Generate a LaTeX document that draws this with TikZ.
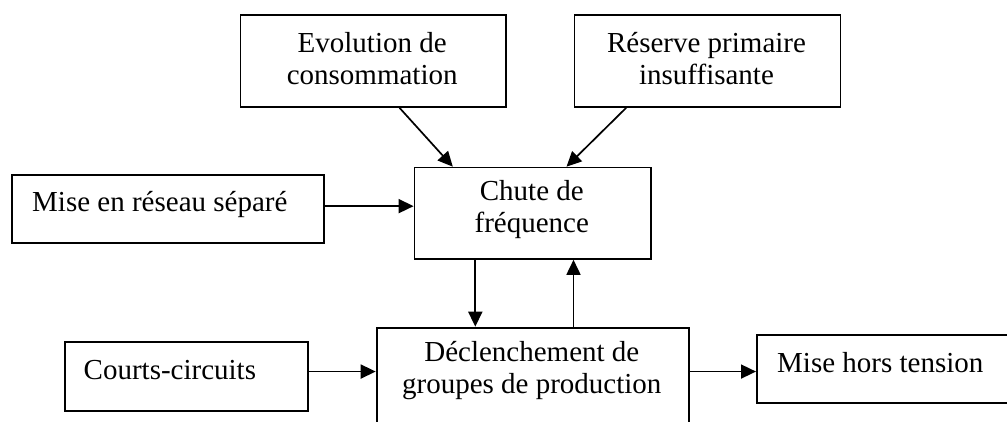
\documentclass[tikz,border=0pt]{standalone}
\usepackage{fontspec}
\setmainfont{Liberation Serif}
\usetikzlibrary{arrows.meta}
\begin{document}
\begin{tikzpicture}[x=1pt,y=-1pt,
  box/.style={draw, line width=1.8pt, rectangle, inner sep=0pt, anchor=north west},
  lbl/.style={inner sep=0pt, align=center, font=\fontsize{29}{32}\selectfont},
  arr/.style={line width=1.7pt, -{Triangle[length=15pt,width=14pt]}}]
\useasboundingbox (0,0) rectangle (1007,422);
\clip (0,0) rectangle (1007,422);

% boxes
\node[box, minimum width=265.2pt, minimum height=91.7pt] (evo) at (239.6,14.3) {};
\node[box, minimum width=266pt, minimum height=91.7pt] (res) at (573.5,14.3) {};
\node[box, minimum width=236.4pt, minimum height=91.3pt] (chute) at (413.6,166.7) {};
\node[box, minimum width=312pt, minimum height=68.5pt] (mrs) at (10.9,174) {};
\node[box, minimum width=242.8pt, minimum height=68.7pt] (cc) at (64.2,341.3) {};
\node[box, minimum width=312.3pt, minimum height=130pt] (dec) at (375.7,326.7) {};
\node[box, minimum width=300pt, minimum height=68pt] (mht) at (756,334) {};

% labels
\node[lbl] (tevo) at (372.2,59) {Evolution de\\consommation};
\node[lbl] (tres) at (706.5,59) {Réserve primaire\\insuffisante};
\node[lbl] (tchute) at (531.8,210) {Chute de\\fréquence};
\node[lbl, anchor=west] (tmrs) at (32,205) {Mise en réseau séparé};
\node[lbl, anchor=west] (tcc) at (83.5,370) {Courts-circuits};
\node[lbl] (tdec) at (531.8,371) {Déclenchement de\\groupes de production};
\node[lbl, anchor=west] (tmht) at (777,363) {Mise hors tension};

% connectors
\draw[arr] ([xshift=159.9pt]evo.south west) -- ([xshift=39.2pt]chute.north west);
\draw[arr] ([xshift=52.7pt]res.south west) -- ([xshift=152.9pt]chute.north west);
\draw[arr] ([yshift=3pt]mrs.east) -- ([yshift=3pt]mrs.east -| chute.west);
\draw[arr] ([xshift=61.7pt]chute.south west) -- ([xshift=61.7pt]chute.south west |- dec.north);
\draw[arr] ([xshift=159.9pt]chute.south west |- dec.north) -- ([xshift=159.9pt]chute.south west);
\draw[arr] ([yshift=5pt]cc.east) -- ([yshift=5pt]cc.east -| dec.west);
\draw[arr] ([yshift=5pt]cc.east -| dec.east) -- ([yshift=5pt]cc.east -| mht.west);
\end{tikzpicture}
\end{document}
